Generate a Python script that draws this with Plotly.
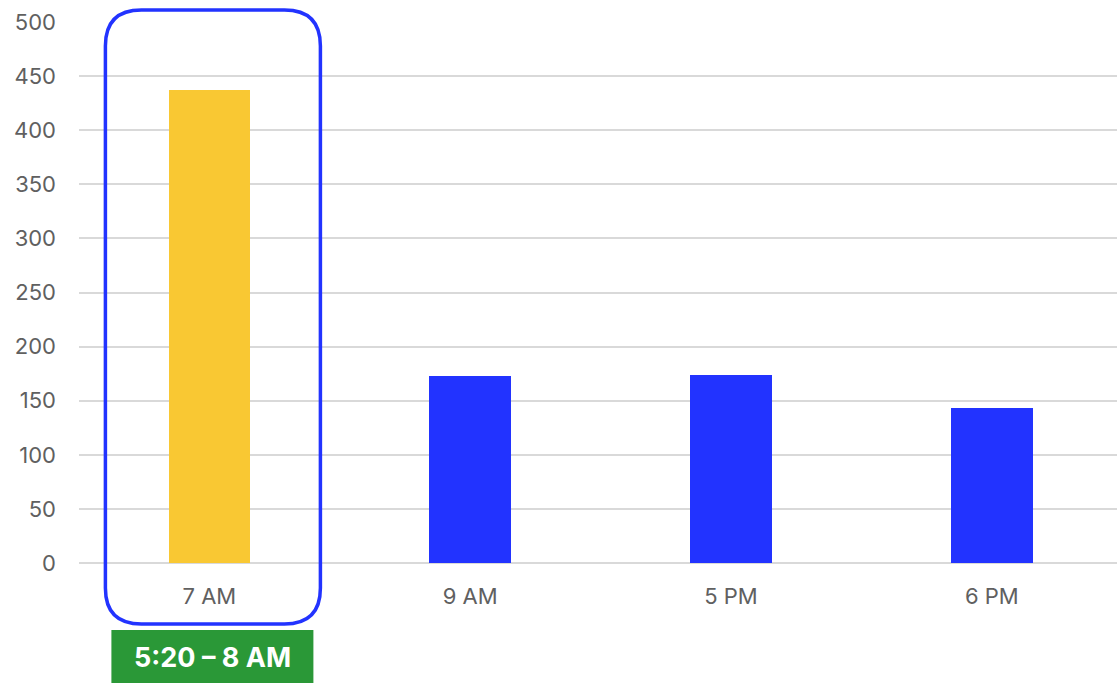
import plotly.graph_objects as go

# Hourly peaks
categories = ["7 AM", "9 AM", "5 PM", "6 PM"]
values = [437, 173, 174, 143]
bar_colors = ["#F9C833", "#2233FF", "#2233FF", "#2233FF"]
y_ticks = [0, 50, 100, 150, 200, 250, 300, 350, 400, 450, 500]
highlight_label = "5:20 – 8 AM"
highlight_index = 0

FONT = "Inter"
TEXT_GRAY = "#606060"
X_RANGE = [-0.5, 3.48]

fig = go.Figure(
    go.Bar(
        x=categories,
        y=values,
        marker=dict(color=bar_colors, line=dict(width=0)),
        width=0.313,
        hoverinfo="x+y",
    )
)

# Anchor for the highlight decorations: the highlighted category's base,
# expressed as a fraction of the axis domains (domain refs are not clipped)
anchor_x = (highlight_index - X_RANGE[0]) / (X_RANGE[1] - X_RANGE[0])
anchor_y = 0

# Rounded outline around the highlighted category (pixel offsets from its base)
left, right, top, bottom, r = -104, 111, 553, -61, 36
outline = (
    f"M {left + r},{top} L {right - r},{top} "
    f"Q {right},{top} {right},{top - r} "
    f"L {right},{bottom + r} "
    f"Q {right},{bottom} {right - r},{bottom} "
    f"L {left + r},{bottom} "
    f"Q {left},{bottom} {left},{bottom + r} "
    f"L {left},{top - r} "
    f"Q {left},{top} {left + r},{top} Z"
)
fig.add_shape(
    type="path",
    path=outline,
    xref="x domain", yref="y domain",
    xsizemode="pixel", ysizemode="pixel",
    xanchor=anchor_x, yanchor=anchor_y,
    line=dict(color="#2233FF", width=3.5),
    fillcolor="rgba(0,0,0,0)",
    layer="above",
)

# Green time-range badge under the highlighted category
fig.add_shape(
    type="rect",
    xref="x domain", yref="y domain",
    xsizemode="pixel", ysizemode="pixel",
    xanchor=anchor_x, yanchor=anchor_y,
    x0=-98, x1=104, y0=-67, y1=-125,
    line=dict(width=0),
    fillcolor="#2A9837",
    layer="above",
)
fig.add_annotation(
    x=anchor_x, y=anchor_y, xref="x domain", yref="y domain",
    xanchor="center", yanchor="middle",
    xshift=3, yshift=-94,
    text=f"<b>{highlight_label}</b>",
    showarrow=False,
    font=dict(family=FONT, size=27, color="white"),
)

fig.update_layout(
    width=1117, height=683,
    margin=dict(l=79, r=0, t=22, b=120),
    paper_bgcolor="white",
    plot_bgcolor="white",
    showlegend=False,
    bargap=0,
    font=dict(family=FONT, size=22, color=TEXT_GRAY),
    xaxis=dict(
        type="category",
        range=X_RANGE,
        showgrid=False,
        showline=False,
        ticks="",
        ticklabelstandoff=18,
        tickfont=dict(family=FONT, size=22, color=TEXT_GRAY),
        fixedrange=True,
    ),
    yaxis=dict(
        range=[0, 500],
        tickvals=y_ticks,
        showgrid=True,
        gridcolor="#d9d9d9",
        gridwidth=1.5,
        zeroline=True,
        zerolinecolor="#d9d9d9",
        zerolinewidth=1.5,
        showline=False,
        ticks="",
        ticklabelstandoff=22,
        tickfont=dict(family=FONT, size=22, color=TEXT_GRAY),
        fixedrange=True,
    ),
)

fig.write_html("out.html")
